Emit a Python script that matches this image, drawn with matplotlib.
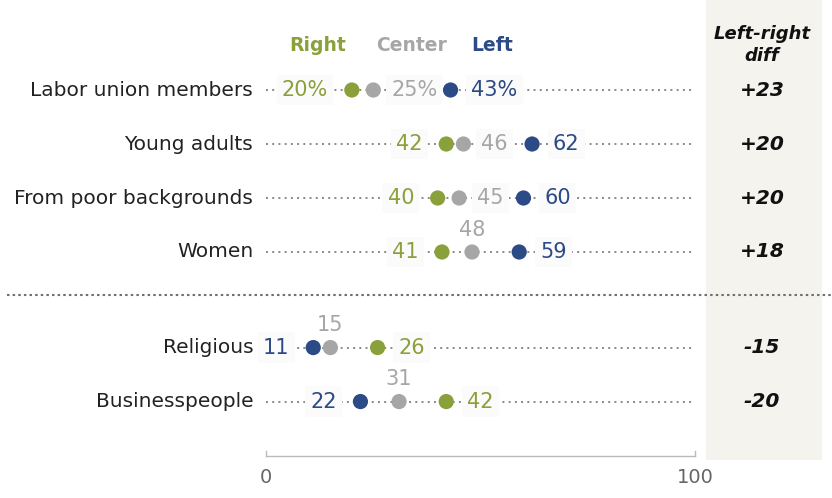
import numpy as np
import matplotlib.pyplot as plt

# Dane
groups = ["Labor union members", "Young adults", "From poor backgrounds",
          "Women", "Religious", "Businesspeople"]
right = [20, 42, 40, 41, 26, 42]
center = [25, 46, 45, 48, 15, 31]
left = [43, 62, 60, 59, 11, 22]
series_names = ["Right", "Center", "Left"]
diff_title = "Left-right\ndiff"
ticks = [0, 100]

# Kolory
c_right = '#8aa03a'
c_center = '#a6a6a6'
c_left = '#2c4a86'
colors = [c_right, c_center, c_left]

plt.rcParams['font.family'] = ['DejaVu Sans']

fig = plt.figure(figsize=(8.32, 4.98), dpi=100)
ax = fig.add_axes([0, 0, 1, 1])
ax.set_xlim(-62.0, 131.9)
ax.set_ylim(7.556, -1.667)
ax.axis('off')

# pozycje wierszy (przerwa przed druga grupa)
gap = 0.77
ypos = [i + (gap if i >= 4 else 0) for i in range(len(groups))]

# szary panel z roznica
ax.add_patch(plt.Rectangle((102.6, -1.667), 27.0, 6.85 + 1.667,
                           facecolor='#f4f3ee', edgecolor='none', zorder=0))

box = dict(boxstyle='square,pad=0.25', facecolor='#fbfbfb', edgecolor='none')

for i, g in enumerate(groups):
    y = ypos[i]
    ax.plot([0, 100], [y, y], color='#888888', lw=1.4,
            linestyle=(0, (1, 2.2)), zorder=1)
    ax.text(-3.0, y, g, ha='right', va='center', fontsize=14.5, color='#222222')
    vals = [right[i], center[i], left[i]]
    ax.scatter(vals, [y] * 3, s=120, c=colors, zorder=4, linewidths=0)
    suf = '%' if i == 0 else ''
    order = np.argsort(vals)
    lo, mid, hi = order
    ax.annotate(f"{vals[lo]}{suf}", (vals[lo], y), xytext=(-17, 0),
                textcoords='offset points', ha='right', va='center',
                fontsize=15, color=colors[lo], bbox=box, zorder=3)
    ax.annotate(f"{vals[hi]}{suf}", (vals[hi], y), xytext=(15, 0),
                textcoords='offset points', ha='left', va='center',
                fontsize=15, color=colors[hi], bbox=box, zorder=3)
    if vals[hi] - vals[mid] > 13:
        ax.annotate(f"{vals[mid]}{suf}", (vals[mid], y), xytext=(13, 0),
                    textcoords='offset points', ha='left', va='center',
                    fontsize=15, color=colors[mid], bbox=box, zorder=3)
    else:
        ax.annotate(f"{vals[mid]}{suf}", (vals[mid], y), xytext=(0, 16),
                    textcoords='offset points', ha='center', va='center',
                    fontsize=15, color=colors[mid], zorder=3)
    d = left[i] - right[i]
    ax.text(115.6, y, f"{d:+d}", ha='center', va='center', fontsize=14.5,
            fontweight='bold', fontstyle='italic', color='#111111')

# naglowki
for name, xh, col in zip(series_names, [12.1, 33.8, 52.7], colors):
    ax.text(xh, -0.833, name, ha='center', va='center', fontsize=13.5,
            fontweight='bold', color=col)
ax.text(115.6, -0.84, diff_title, ha='center', va='center', fontsize=13,
        fontweight='bold', fontstyle='italic', color='#111111',
        linespacing=1.3)

# linia oddzielajaca
ax.plot([-60.4, 131.9], [3.796, 3.796], color='#707070', lw=1.5,
        linestyle=(0, (1.2, 1.5)), zorder=1)

# os x
ya = 6.78
ax.plot([0, 100], [ya, ya], color='#bbbbbb', lw=1)
for t in ticks:
    ax.plot([t, t], [ya, ya - 0.1], color='#bbbbbb', lw=1)
    ax.text(t, 7.185, str(t), ha='center', va='center', fontsize=14,
            color='#666666')

fig.savefig('out.png', dpi=100)
